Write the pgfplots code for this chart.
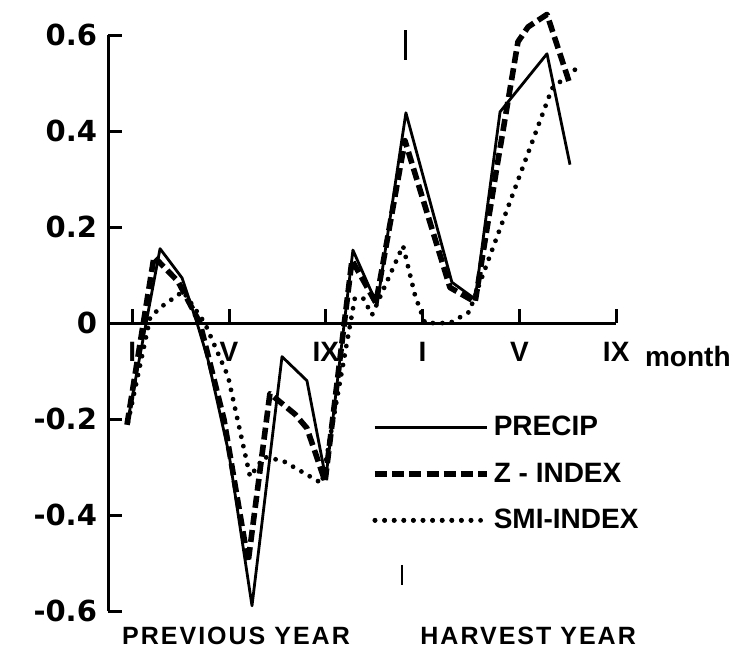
\documentclass[border=0pt]{standalone}
\usepackage{fontspec}
\setmainfont{Liberation Sans}
\newfontfamily\numfont{DejaVu Sans}
\usepackage{pgfplots}
\pgfplotsset{compat=1.18}
\begin{document}
\begin{tikzpicture}
\begin{axis}[
  anchor=origin, at={(0,0)},
  x=12.1pt, y=240pt,
  xmin=0, xmax=21, ymin=-0.6, ymax=0.6,
  clip=false,
  axis x line*=middle, axis y line*=left,
  axis line style={line width=1.5pt},
  every tick/.style={black, line width=1.5pt},
  major tick length=7pt,
  tick align=inside,
  xtick={1,5,9,13,17,21},
  xticklabels={I,V,IX,I,V,IX},
  xticklabel style={font=\fontsize{14}{14}\selectfont\bfseries, yshift=-6pt},
  ytick={-0.6,-0.4,-0.2,0,0.2,0.4,0.6},
  yticklabels={-0.6,-0.4,-0.2,0,0.2,0.4,0.6},
  yticklabel style={font=\numfont\fontsize{14.5}{14.5}\selectfont\bfseries, anchor=east, xshift=-2pt},
  legend style={at={(axis cs:10.9,-0.185)}, anchor=north west, draw=none, fill=none,
    font=\fontsize{14}{14}\selectfont\bfseries, row sep=8pt, inner sep=0pt},
  legend cell align=left,
  legend image code/.code={\draw[#1] (0pt,0pt) -- (48pt,0pt); \path (0pt,0pt) -- (56pt,0pt);},
]
% PRECIP
\addplot[black, line width=1.4pt, line join=round] coordinates {
 (0.83,-0.20) (2.15,0.155) (3.06,0.094) (3.68,0.0) (4.13,-0.076) (5.0,-0.273)
 (5.95,-0.589) (7.19,-0.07) (8.22,-0.12) (9.0,-0.324) (10.12,0.152) (11.12,0.038)
 (12.31,0.438) (14.21,0.085) (15.17,0.05) (16.2,0.44) (18.14,0.561) (19.09,0.33)
};
\addlegendentry{PRECIP}
% Z-INDEX
\addplot[black, line width=2.8pt, dash pattern=on 6pt off 2.6pt, line join=round] coordinates {
 (0.785,-0.212) (1.9,0.138) (2.89,0.087) (3.8,0.0) (4.79,-0.2) (5.79,-0.498)
 (6.69,-0.147) (7.73,-0.19) (8.22,-0.219) (8.97,-0.33) (10.08,0.131) (11.07,0.042)
 (12.27,0.38) (14.13,0.074) (15.17,0.044) (16.07,0.325) (16.94,0.586) (17.36,0.617)
 (18.14,0.643) (19.09,0.497)
};
\addlegendentry{Z - INDEX}
% SMI-INDEX
\addplot[black, line width=2.4pt, dash pattern=on 0pt off 4.8pt, line cap=round] coordinates {
 (0.83,-0.206) (1.74,0.011) (2.15,0.032) (3.1,0.066) (4.0,0.0) (4.96,-0.111)
 (5.87,-0.32) (6.45,-0.279) (7.23,-0.287) (8.84,-0.334) (10.2,0.052) (10.54,0.052)
 (10.91,0.017) (12.19,0.161) (12.69,0.057) (13.1,0.0) (14.13,0.0) (14.92,0.023)
 (18.35,0.489) (19.3,0.528)
};
\addlegendentry{SMI-INDEX}
% year dividers and labels
\draw[line width=1.4pt] (axis cs:12.3,0.61) -- (axis cs:12.3,0.548);
\draw[line width=1.4pt] (axis cs:12.15,-0.504) -- (axis cs:12.15,-0.546);
\node[font=\fontsize{12.5}{12.5}\selectfont\bfseries\addfontfeatures{LetterSpace=8}] at (axis cs:5.29,-0.652) {PREVIOUS YEAR};
\node[font=\fontsize{12.5}{12.5}\selectfont\bfseries\addfontfeatures{LetterSpace=8}] at (axis cs:17.36,-0.652) {HARVEST YEAR};
\node[font=\fontsize{14}{14}\selectfont\bfseries, anchor=west] at (axis cs:21.9,-0.069) {month};
\coordinate (bbl) at (axis cs:-4.463,-0.6875);
\coordinate (btr) at (axis cs:25.95,0.673);
\end{axis}
\pgfresetboundingbox
\useasboundingbox (bbl) rectangle (btr);
\end{tikzpicture}
\end{document}
